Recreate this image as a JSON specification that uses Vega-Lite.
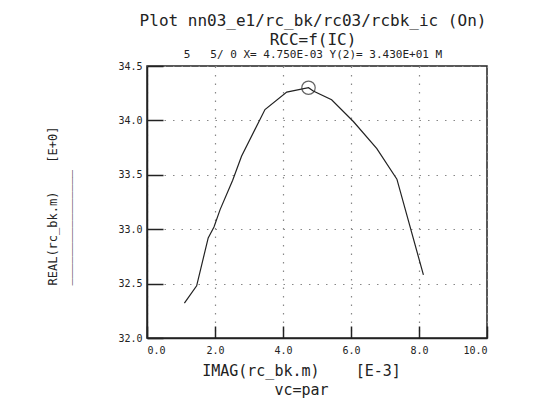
{
  "$schema": "https://vega.github.io/schema/vega-lite/v6.json",
  "width": 340,
  "height": 272,
  "autosize": {"type": "none"},
  "padding": {"left": 147, "top": 66, "right": 65, "bottom": 74},
  "background": "white",
  "title": {
    "text": ["Plot nn03_e1/rc_bk/rc03/rcbk_ic (On)", "RCC=f(IC)"],
    "subtitle": "5\u00a0\u00a0\u00a05/\u00a00\u00a0X=\u00a04.750E-03\u00a0Y(2)=\u00a03.430E+01\u00a0M",
    "anchor": "middle",
    "font": "DejaVu Sans Mono",
    "fontSize": 16,
    "fontWeight": "normal",
    "lineHeight": 19,
    "color": "#222",
    "subtitleFont": "DejaVu Sans Mono",
    "subtitleFontSize": 11,
    "subtitleColor": "#222",
    "subtitlePadding": 1,
    "offset": 1,
    "dx": -4
  },
  "datasets": {
    "curve": [
      {"imag": 1.10, "real": 32.32},
      {"imag": 1.46, "real": 32.48},
      {"imag": 1.80, "real": 32.92},
      {"imag": 1.97, "real": 33.02},
      {"imag": 2.15, "real": 33.18},
      {"imag": 2.52, "real": 33.45},
      {"imag": 2.78, "real": 33.67},
      {"imag": 3.47, "real": 34.10},
      {"imag": 4.11, "real": 34.26},
      {"imag": 4.75, "real": 34.30},
      {"imag": 4.89, "real": 34.27},
      {"imag": 5.43, "real": 34.19},
      {"imag": 6.07, "real": 33.99},
      {"imag": 6.76, "real": 33.74},
      {"imag": 7.35, "real": 33.46},
      {"imag": 8.13, "real": 32.58}
    ],
    "marker": [
      {"imag": 4.75, "real": 34.30}
    ]
  },
  "layer": [
    {
      "data": {"name": "curve"},
      "mark": {"type": "line", "color": "#222", "strokeWidth": 1.2},
      "encoding": {
        "x": {
          "field": "imag", "type": "quantitative",
          "scale": {"domain": [0, 10], "nice": false, "zero": false},
          "axis": {
            "orient": "bottom",
            "values": [0, 2, 4, 6, 8, 10],
            "format": ".1f",
            "tickSize": -12,
            "labelPadding": 19,
            "grid": true,
            "title": ["IMAG(rc_bk.m)\u00a0\u00a0\u00a0\u00a0[E-3]", "vc=par"],
            "titleX": 154,
            "titleFontSize": 15,
            "titleLineHeight": 19,
            "titlePadding": 8
          }
        },
        "y": {
          "field": "real", "type": "quantitative",
          "scale": {"domain": [32, 34.5], "nice": false, "zero": false},
          "axis": {
            "orient": "left",
            "values": [32, 32.5, 33, 33.5, 34, 34.5],
            "format": ".1f",
            "tickSize": -16,
            "labelPadding": 21,
            "grid": true,
            "title": ["REAL(rc_bk.m)\u00a0\u00a0\u00a0\u00a0[E+0]", "________________"],
            "titleAlign": "left",
            "titleY": 219,
            "titleFontSize": 12,
            "titleLineHeight": 13,
            "titlePadding": 45
          }
        }
      }
    },
    {
      "data": {"name": "marker"},
      "mark": {"type": "point", "shape": "circle", "filled": false, "stroke": "#222", "strokeWidth": 1.2, "size": 180},
      "encoding": {
        "x": {"field": "imag", "type": "quantitative"},
        "y": {"field": "real", "type": "quantitative"}
      }
    }
  ],
  "config": {
    "view": {"stroke": "#222", "strokeWidth": 1.5},
    "axis": {
      "domainColor": "#222",
      "domainWidth": 1.5,
      "tickColor": "#222",
      "tickWidth": 1.5,
      "labelColor": "#222",
      "labelFont": "DejaVu Sans Mono",
      "labelFontSize": 10,
      "titleColor": "#222",
      "titleFont": "DejaVu Sans Mono",
      "titleFontWeight": "normal",
      "gridColor": "#888",
      "gridDash": [1.5, 7],
      "gridWidth": 1.2,
      "gridOpacity": 1
    }
  }
}
